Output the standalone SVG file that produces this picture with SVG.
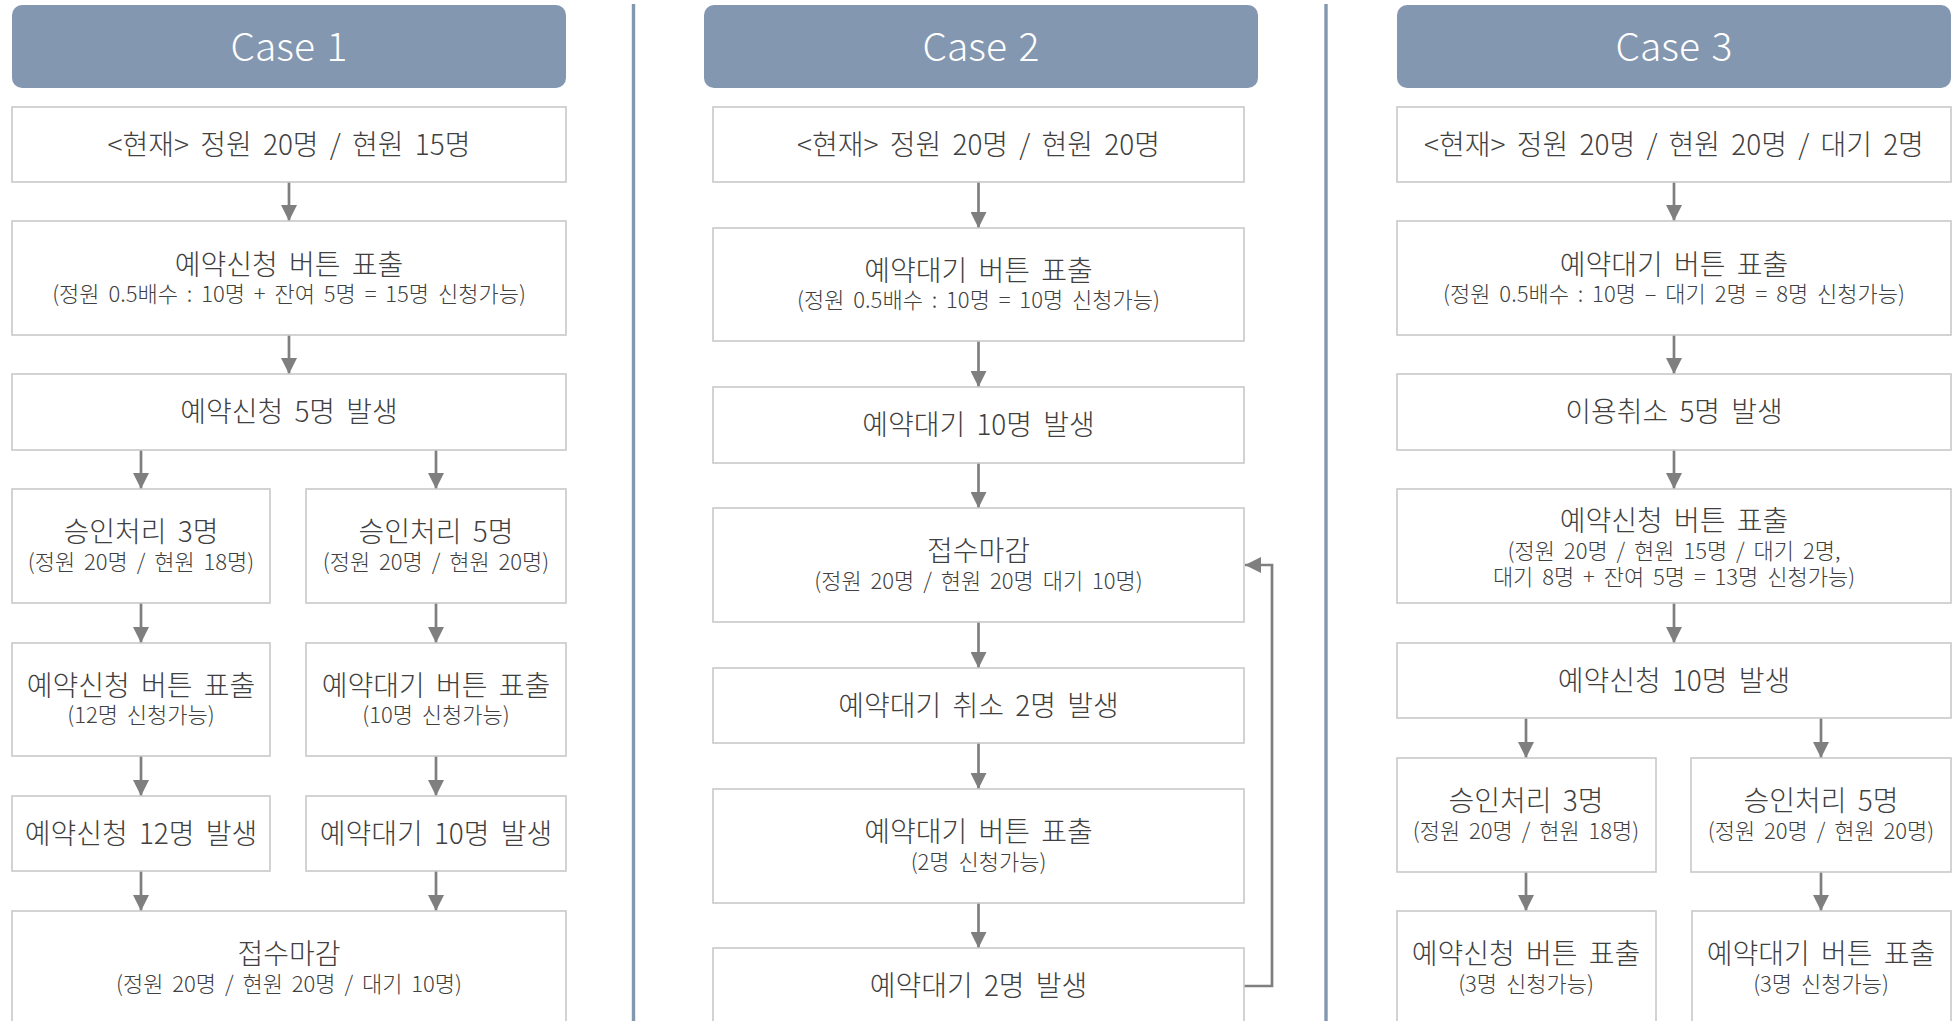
<svg xmlns="http://www.w3.org/2000/svg" width="1952" height="1021" viewBox="0 0 1952 1021">
<defs>
<marker id="ah" markerUnits="userSpaceOnUse" markerWidth="16" markerHeight="16" viewBox="0 0 16 16" refX="16" refY="8" orient="auto">
<path d="M0,0 L16,8 L0,16 z" fill="#7f7f7f"/>
</marker>
<style>
.hd{fill:#8497b0}
.ht{fill:#ffffff;font-family:"Noto Sans CJK KR","Noto Sans",sans-serif;font-size:39px;font-weight:300;text-anchor:middle;word-spacing:3px}
.bx{fill:#ffffff;stroke:#c9c9c9;stroke-width:1.6}
.m{fill:#404040;font-family:"Noto Sans CJK KR",sans-serif;font-size:28px;font-weight:300;text-anchor:middle;word-spacing:5px}
.s{fill:#404040;font-family:"Noto Sans CJK KR",sans-serif;font-size:22px;font-weight:300;text-anchor:middle;word-spacing:4px}
.dv{stroke:#8497b0;stroke-width:3.4;fill:none}
.ar{stroke:#7f7f7f;stroke-width:2.7;fill:none;marker-end:url(#ah)}
</style>
</defs>
<rect width="1952" height="1021" fill="#ffffff"/>
<g id="dividers">
<line class="dv" x1="633.5" y1="4" x2="633.5" y2="1021"/>
<line class="dv" x1="1326" y1="4" x2="1326" y2="1021"/>
</g>
<g id="connectors">
<line class="ar" x1="289" y1="182" x2="289" y2="221"/>
<line class="ar" x1="289" y1="335" x2="289" y2="374"/>
<line class="ar" x1="141" y1="450" x2="141" y2="489"/>
<line class="ar" x1="436" y1="450" x2="436" y2="489"/>
<line class="ar" x1="141" y1="603" x2="141" y2="643"/>
<line class="ar" x1="436" y1="603" x2="436" y2="643"/>
<line class="ar" x1="141" y1="756" x2="141" y2="796"/>
<line class="ar" x1="436" y1="756" x2="436" y2="796"/>
<line class="ar" x1="141" y1="871" x2="141" y2="911"/>
<line class="ar" x1="436" y1="871" x2="436" y2="911"/>
<line class="ar" x1="978.5" y1="182" x2="978.5" y2="228"/>
<line class="ar" x1="978.5" y1="341" x2="978.5" y2="387"/>
<line class="ar" x1="978.5" y1="463" x2="978.5" y2="508"/>
<line class="ar" x1="978.5" y1="622" x2="978.5" y2="668"/>
<line class="ar" x1="978.5" y1="743" x2="978.5" y2="789"/>
<line class="ar" x1="978.5" y1="903" x2="978.5" y2="948"/>
<path class="ar" d="M1244,986 H1272 V565 H1245"/>
<line class="ar" x1="1674" y1="182" x2="1674" y2="221"/>
<line class="ar" x1="1674" y1="335" x2="1674" y2="374"/>
<line class="ar" x1="1674" y1="450" x2="1674" y2="489"/>
<line class="ar" x1="1674" y1="603" x2="1674" y2="643"/>
<line class="ar" x1="1526" y1="718" x2="1526" y2="758"/>
<line class="ar" x1="1821" y1="718" x2="1821" y2="758"/>
<line class="ar" x1="1526" y1="872" x2="1526" y2="911"/>
<line class="ar" x1="1821" y1="872" x2="1821" y2="911"/>
</g>
<g id="case1">
<g id="h1"><rect class="hd" x="12" y="5" width="554" height="83" rx="10"/><text class="ht" x="289" y="61">Case 1</text></g>
<g id="c1a"><rect class="bx" x="12" y="107" width="554" height="75"/><text class="m" x="289" y="155">&lt;현재&gt; 정원 20명 / 현원 15명</text></g>
<g id="c1b"><rect class="bx" x="12" y="221" width="554" height="114"/><text class="m" x="289" y="275">예약신청 버튼 표출</text><text class="s" x="289" y="302">(정원 0.5배수 : 10명 + 잔여 5명 = 15명 신청가능)</text></g>
<g id="c1c"><rect class="bx" x="12" y="374" width="554" height="76"/><text class="m" x="289" y="422">예약신청 5명 발생</text></g>
<g id="c1d1"><rect class="bx" x="12" y="489" width="258" height="114"/><text class="m" x="141" y="542">승인처리 3명</text><text class="s" x="141" y="570">(정원 20명 / 현원 18명)</text></g>
<g id="c1d2"><rect class="bx" x="306" y="489" width="260" height="114"/><text class="m" x="436" y="542">승인처리 5명</text><text class="s" x="436" y="570">(정원 20명 / 현원 20명)</text></g>
<g id="c1e1"><rect class="bx" x="12" y="643" width="258" height="113"/><text class="m" x="141" y="696">예약신청 버튼 표출</text><text class="s" x="141" y="723">(12명 신청가능)</text></g>
<g id="c1e2"><rect class="bx" x="306" y="643" width="260" height="113"/><text class="m" x="436" y="696">예약대기 버튼 표출</text><text class="s" x="436" y="723">(10명 신청가능)</text></g>
<g id="c1f1"><rect class="bx" x="12" y="796" width="258" height="75"/><text class="m" x="141" y="844">예약신청 12명 발생</text></g>
<g id="c1f2"><rect class="bx" x="306" y="796" width="260" height="75"/><text class="m" x="436" y="844">예약대기 10명 발생</text></g>
<g id="c1g"><rect class="bx" x="12" y="911" width="554" height="114"/><text class="m" x="289" y="964">접수마감</text><text class="s" x="289" y="992">(정원 20명 / 현원 20명 / 대기 10명)</text></g>
</g>
<g id="case2">
<g id="h2"><rect class="hd" x="704" y="5" width="554" height="83" rx="10"/><text class="ht" x="981" y="61">Case 2</text></g>
<g id="c2a"><rect class="bx" x="713" y="107" width="531" height="75"/><text class="m" x="978.5" y="155">&lt;현재&gt; 정원 20명 / 현원 20명</text></g>
<g id="c2b"><rect class="bx" x="713" y="228" width="531" height="113"/><text class="m" x="978.5" y="281">예약대기 버튼 표출</text><text class="s" x="978.5" y="308">(정원 0.5배수 : 10명 = 10명 신청가능)</text></g>
<g id="c2c"><rect class="bx" x="713" y="387" width="531" height="76"/><text class="m" x="978.5" y="435">예약대기 10명 발생</text></g>
<g id="c2d"><rect class="bx" x="713" y="508" width="531" height="114"/><text class="m" x="978.5" y="561">접수마감</text><text class="s" x="978.5" y="589">(정원 20명 / 현원 20명 대기 10명)</text></g>
<g id="c2e"><rect class="bx" x="713" y="668" width="531" height="75"/><text class="m" x="978.5" y="716">예약대기 취소 2명 발생</text></g>
<g id="c2f"><rect class="bx" x="713" y="789" width="531" height="114"/><text class="m" x="978.5" y="842">예약대기 버튼 표출</text><text class="s" x="978.5" y="870">(2명 신청가능)</text></g>
<g id="c2g"><rect class="bx" x="713" y="948" width="531" height="75"/><text class="m" x="978.5" y="996">예약대기 2명 발생</text></g>
</g>
<g id="case3">
<g id="h3"><rect class="hd" x="1397" y="5" width="554" height="83" rx="10"/><text class="ht" x="1674" y="61">Case 3</text></g>
<g id="c3a"><rect class="bx" x="1397" y="107" width="554" height="75"/><text class="m" x="1674" y="155">&lt;현재&gt; 정원 20명 / 현원 20명 / 대기 2명</text></g>
<g id="c3b"><rect class="bx" x="1397" y="221" width="554" height="114"/><text class="m" x="1674" y="275">예약대기 버튼 표출</text><text class="s" x="1674" y="302">(정원 0.5배수 : 10명 – 대기 2명 = 8명 신청가능)</text></g>
<g id="c3c"><rect class="bx" x="1397" y="374" width="554" height="76"/><text class="m" x="1674" y="422">이용취소 5명 발생</text></g>
<g id="c3d"><rect class="bx" x="1397" y="489" width="554" height="114"/><text class="m" x="1674" y="531">예약신청 버튼 표출</text><text class="s" x="1674" y="559">(정원 20명 / 현원 15명 / 대기 2명,</text><text class="s" x="1674" y="585">대기 8명 + 잔여 5명 = 13명 신청가능)</text></g>
<g id="c3e"><rect class="bx" x="1397" y="643" width="554" height="75"/><text class="m" x="1674" y="691">예약신청 10명 발생</text></g>
<g id="c3f1"><rect class="bx" x="1397" y="758" width="259" height="114"/><text class="m" x="1526" y="811">승인처리 3명</text><text class="s" x="1526" y="839">(정원 20명 / 현원 18명)</text></g>
<g id="c3f2"><rect class="bx" x="1691" y="758" width="260" height="114"/><text class="m" x="1821" y="811">승인처리 5명</text><text class="s" x="1821" y="839">(정원 20명 / 현원 20명)</text></g>
<g id="c3g1"><rect class="bx" x="1397" y="911" width="259" height="114"/><text class="m" x="1526" y="964">예약신청 버튼 표출</text><text class="s" x="1526" y="992">(3명 신청가능)</text></g>
<g id="c3g2"><rect class="bx" x="1692" y="911" width="259" height="114"/><text class="m" x="1821" y="964">예약대기 버튼 표출</text><text class="s" x="1821" y="992">(3명 신청가능)</text></g>
</g>
</svg>
